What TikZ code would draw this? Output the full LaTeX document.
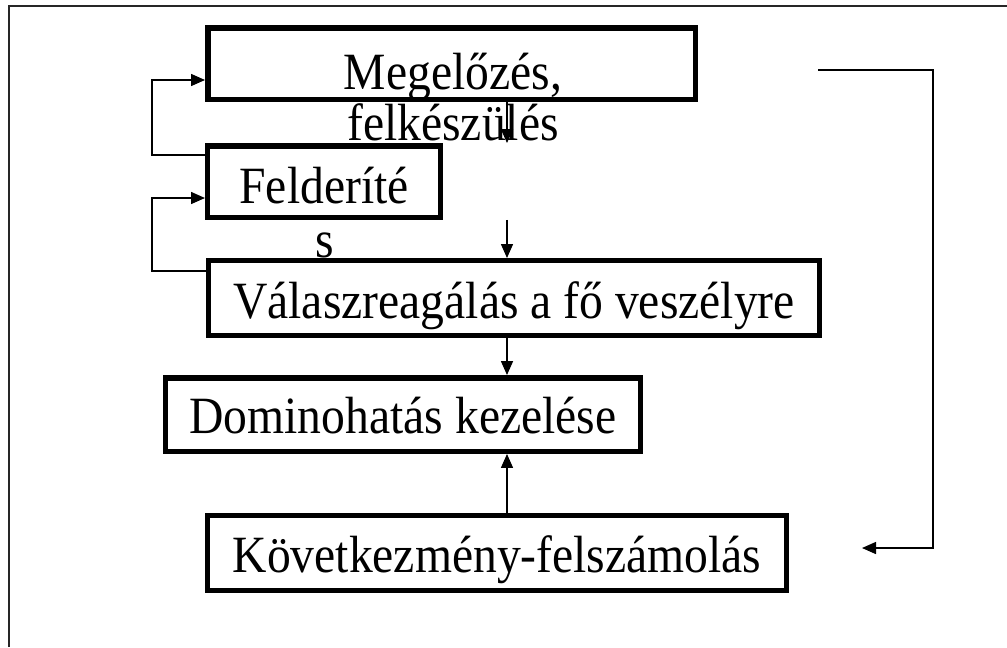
\documentclass[tikz,border=0pt]{standalone}
\usepackage{fontspec}
\setmainfont{Liberation Serif}
\usetikzlibrary{arrows.meta}
\newcommand{\stretchtxt}[1]{\scalebox{1}[1.1]{#1}}
\tikzset{
  stagebox/.style={draw, line width=4.1pt, inner sep=0pt},
  txt/.style={font=\fontsize{35.7pt}{40pt}\selectfont, inner sep=0pt, anchor=base},
  conn/.style={draw, line width=1.1pt, -{Triangle[length=10.5pt,width=9pt]}},
  frame/.style={draw, line width=1.5pt, black!85}
}
\begin{document}
\begin{tikzpicture}[x=0.75pt,y=-0.75pt]
\useasboundingbox (0,0) rectangle (1007,647);
\draw[frame] (9,647) -- (9,6) -- (1007,6);

% boxes
\node[stagebox, minimum width=365.6pt, minimum height=53.6pt] (megel) at (451.5,63.5) {};
\node[stagebox, minimum width=174.4pt, minimum height=53.6pt] (felder) at (324,181.5) {};
\node[stagebox, minimum width=457.9pt, minimum height=55.9pt] (valasz) at (514,298) {};
\node[stagebox, minimum width=355.9pt, minimum height=55.1pt] (domino) at (403,414.5) {};
\node[stagebox, minimum width=433.9pt, minimum height=55.9pt] (kovet) at (497,553) {};

% texts
\node[txt] (megtA) at (453,89) {\stretchtxt{Megelőzés,}};
\node[txt] (megtB) at (453,140) {\stretchtxt{felkészülés}};
\node[txt] (feltA) at (324,203) {\stretchtxt{Felderíté}};
\node[txt] (feltB) at (325,257) {\stretchtxt{s}};
\node[txt] (valt) at (514,318) {\stretchtxt{Válaszreagálás a fő veszélyre}};
\node[txt] (domt) at (403,433) {\stretchtxt{Dominohatás kezelése}};
\node[txt] (kovt) at (497,572) {\stretchtxt{Következmény-felszámolás}};

% vertical connectors
\coordinate (cx) at (507,0);
\draw[conn] (megel.south -| cx) -- (cx |- felder.north);
\draw[conn] (cx |- felder.south) -- (cx |- valasz.north);
\draw[conn] (cx |- valasz.south) -- (cx |- domino.north);
\draw[conn] (cx |- kovet.north) -- (cx |- domino.south);

% left feedback loops
\coordinate (LAa) at (152,155);
\coordinate (LAb) at (152,80);
\draw[conn] (LAa -| felder.west) -- (LAa) -- (LAb) -- (LAb -| megel.west);
\coordinate (LBa) at (152,271);
\coordinate (LBb) at (152,198);
\draw[conn] (LBa -| valasz.west) -- (LBa) -- (LBb) -- (LBb -| felder.west);

% right loop
\coordinate (R0) at (818,70);
\coordinate (R1) at (933,70);
\coordinate (R2) at (933,548);
\coordinate (R3) at (862,548);
\draw[conn] (R0) -- (R1) -- (R2) -- (R3);
\end{tikzpicture}
\end{document}
